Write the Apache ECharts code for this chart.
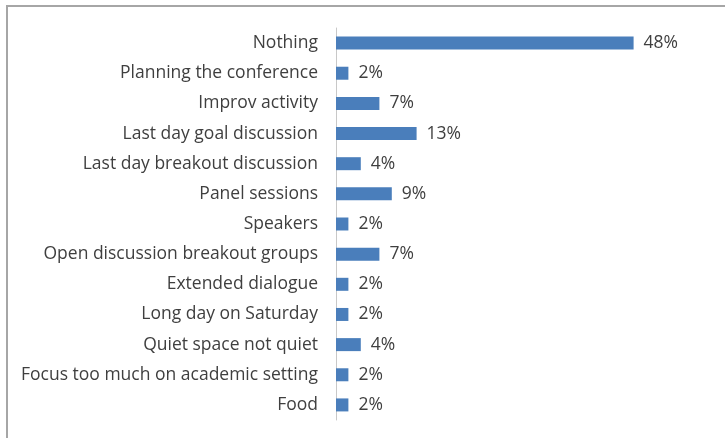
<!DOCTYPE html>
<html>
<head>
<meta charset="utf-8">
<script src="https://cdn.jsdelivr.net/npm/echarts@6/dist/echarts.min.js"></script>
<style>
  html, body { margin: 0; padding: 0; background: #ffffff; }
  #chart { width: 725px; height: 438px; }
</style>
</head>
<body>
<div id="chart"></div>
<script>
// Responses, top to bottom
const categories = [
  'Nothing',
  'Planning the conference',
  'Improv activity',
  'Last day goal discussion',
  'Last day breakout discussion',
  'Panel sessions',
  'Speakers',
  'Open discussion breakout groups',
  'Extended dialogue',
  'Long day on Saturday',
  'Quiet space not quiet',
  'Focus too much on academic setting',
  'Food'
];
// Share of respondents, percent
const percents = [48, 2, 7, 13, 4, 9, 2, 7, 2, 2, 4, 2, 2];

const chart = echarts.init(document.getElementById('chart'));
chart.setOption({
  animation: false,
  backgroundColor: '#ffffff',
  textStyle: { fontFamily: 'Open Sans' },
  graphic: [
    { type: 'line', shape: { x1: 7, y1: 6, x2: 7, y2: 438 }, style: { stroke: '#a6a6a6', lineWidth: 2 } },
    { type: 'line', shape: { x1: 6, y1: 6, x2: 725, y2: 6 }, style: { stroke: '#a6a6a6', lineWidth: 2 } }
  ],
  grid: { left: 336, right: 79, top: 28, bottom: 18, containLabel: false },
  xAxis: {
    type: 'value', min: 0, max: 50, show: false
  },
  yAxis: {
    type: 'category',
    inverse: true,
    data: categories,
    axisLine: { show: true, lineStyle: { color: '#c8c8c8', width: 1 } },
    axisTick: { show: false },
    axisLabel: { color: '#3f3f3f', fontSize: 17.5, margin: 18, fontFamily: 'Open Sans' }
  },
  series: [{
    type: 'bar',
    data: percents,
    barWidth: 13,
    itemStyle: { color: '#4a7ebb' },
    label: {
      show: true,
      position: 'right',
      distance: 10,
      color: '#3f3f3f',
      fontSize: 17.5,
      fontFamily: 'Open Sans',
      formatter: p => p.value + '%'
    }
  }]
});
</script>
</body>
</html>
